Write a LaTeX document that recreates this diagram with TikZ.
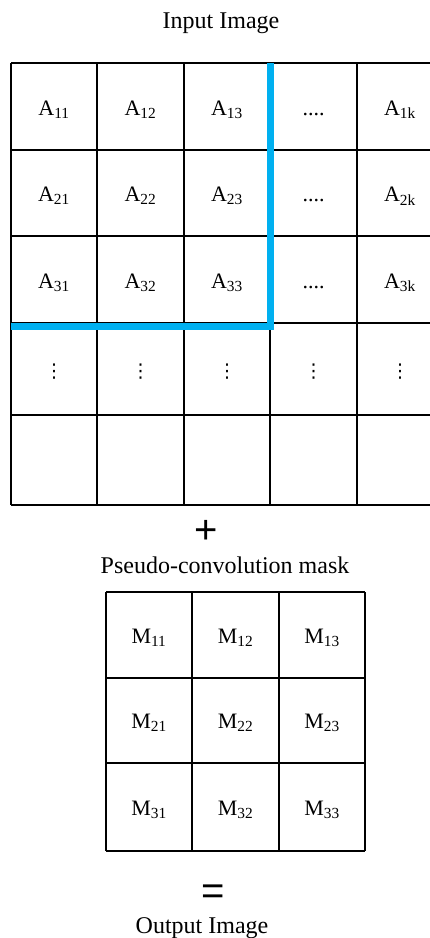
\documentclass[tikz,border=0pt]{standalone}
\usepackage{fontspec}
\setmainfont{Liberation Serif}
\setsansfont{Liberation Sans}
\newfontfamily\dotfont{DejaVu Sans}
\usepackage{tikz}
\usetikzlibrary{positioning}
\definecolor{winblue}{HTML}{00B0F0}
\tikzset{cell/.style={anchor=base,font=\fontsize{22}{26}\selectfont}}
\tikzset{title/.style={anchor=base,font=\fontsize{24}{28}\selectfont}}
\tikzset{opsign/.style={font=\sffamily\fontsize{40}{40}\selectfont}}
\tikzset{gridline/.style={line width=1.5}}

\begin{document}
\begin{tikzpicture}[x=1pt,y=-1pt]
\useasboundingbox (0,0) rectangle (430,938);
\node[title] (inimg) at (221,28) {Input Image};
\foreach \x in {11,97,184,270,357,443} {
\draw[gridline] (\x,63) -- (\x,505);
}
\foreach \y in {63,150,236,323,415,505} {
\draw[gridline] (11,\y) -- (443,\y);
}
\foreach \r/\y in {1/115,2/201.5,3/288} {
\foreach \c/\x in {1/54,2/140.5,3/227} {
\node[cell] (a\r\c) at (\x,\y) {A\textsubscript{\r\c}};
}
\node[cell] (a\r d) at (313.5,\y) {....};
\node[cell] (a\r k) at (400,\y) {A\textsubscript{\r k}};
}
\foreach \c/\x in {1/54,2/140.5,3/227,4/313.5,5/400} {
\node[font=\dotfont\fontsize{19}{22}\selectfont] (v\c) at (\x,372) {⋮};
}
%\draw [dashed] (11,326) -- (270,326) ;
\draw[winblue,line width=7] (11,326) -- (270,326) -- (270,63);
\node[opsign] (plus) at (206,532) {+};
\node[title] (mask) at (225,573) {Pseudo-convolution mask};
\foreach \x in {106,192,279,365} {
\draw[gridline] (\x,592) -- (\x,851);
}
\foreach \y in {592,678,763,851} {
\draw[gridline] (106,\y) -- (365,\y);
}
\foreach \r/\y in {1/643,2/728.5,3/815} {
\foreach \c/\x in {1/149,2/235.5,3/322} {
\node[cell] (m\r\c) at (\x,\y) {M\textsubscript{\r\c}};
}
}
\node[opsign] (equal) at (213,895) {=};
\node[title] (outimg) at (202,933) {Output Image};
\end{tikzpicture}
\end{document}
